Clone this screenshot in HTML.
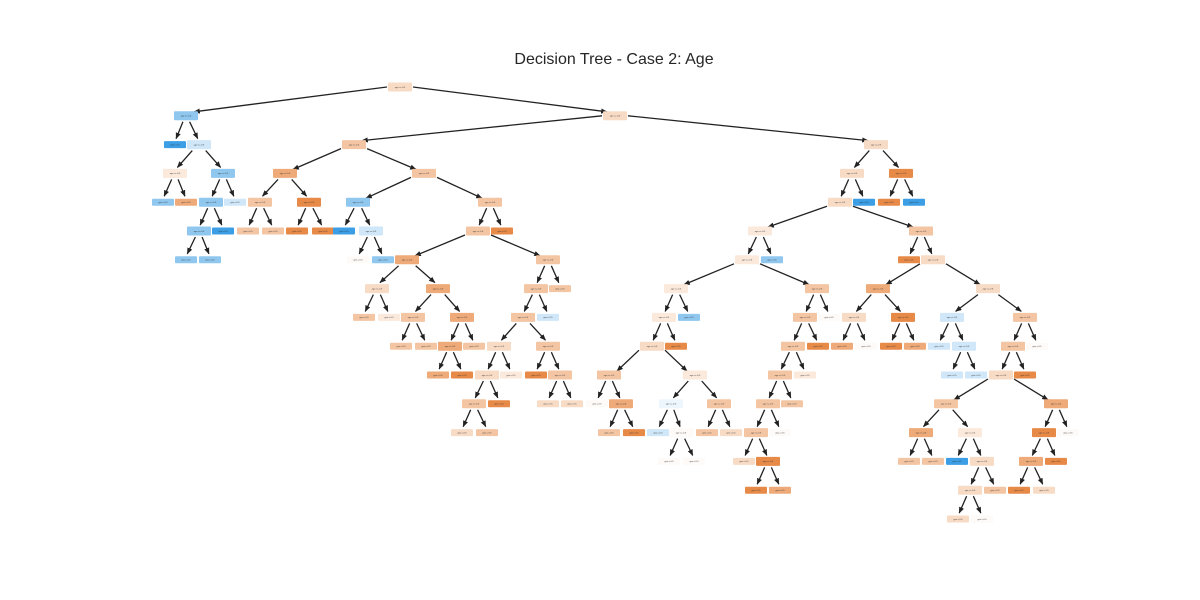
<!DOCTYPE html>
<html><head><meta charset="utf-8"><style>
html,body{margin:0;padding:0;background:#fff;width:1200px;height:600px;overflow:hidden}
svg{display:block}
</style></head><body>
<svg id="s" width="1200" height="600" viewBox="0 0 1200 600" xmlns="http://www.w3.org/2000/svg">
<defs><marker id="a" viewBox="0 0 10 10" refX="9" refY="5" markerWidth="5" markerHeight="5" orient="auto"><path d="M0,1 L10,5 L0,9 z" fill="#222"/></marker></defs>
<text x="614" y="64" text-anchor="middle" font-family="Liberation Sans, sans-serif" font-size="16" fill="#262626">Decision Tree - Case 2: Age</text>
<g id="e" stroke="#222" stroke-width="1.3" fill="none"></g>
<g id="n"></g>
</svg>
<script>
var C={O0:"#fbe9dc",O1:"#f8dbc5",O2:"#f3c5a3",O3:"#eeaa79",O4:"#e78a48",W:"#fefaf7",B0:"#eef6fd",B1:"#cfe7f8",B2:"#8fc7ef",B3:"#3c9ee5"};
var N=[[400,0,"O1",-1],[186,1,"B2",0],[615,1,"O1",0],[175,2,"B3",1],[199,2,"B1",1],[175,3,"O0",4],[223,3,"B2",4],[163,4,"B2",5],[186,4,"O3",5],[211,4,"B2",6],[235,4,"B1",6],[199,5,"B2",9],[223,5,"B3",9],[186,6,"B2",11],[210,6,"B2",11],
[354,2,"O2",2],[876,2,"O1",2],[285,3,"O3",15],[424,3,"O2",15],[260,4,"O2",17],[309,4,"O4",17],[248,5,"O2",19],[273,5,"O2",19],[297,5,"O4",20],[323,5,"O4",20],[358,4,"B2",18],[490,4,"O2",18],[344,5,"B3",25],[371,5,"B1",25],[358,6,"W",28],[383,6,"B2",28],[478,5,"O2",26],[502,5,"O4",26],[407,6,"O3",31],[548,6,"O2",31],[377,7,"O1",33],[438,7,"O3",33],[364,8,"O2",35],[389,8,"O0",35],[413,8,"O2",36],[462,8,"O3",36],[401,9,"O2",39],[426,9,"O2",39],[450,9,"O3",40],[474,9,"O2",40],[438,10,"O3",43],[462,10,"O4",43],[536,7,"O2",34],[560,7,"O2",34],[523,8,"O2",47],[548,8,"B1",47],[499,9,"O1",49],[548,9,"O2",49],[487,10,"O1",51],[511,10,"O0",51],[474,11,"O2",53],[499,11,"O4",53],[462,12,"O1",55],[487,12,"O2",55],[536,10,"O4",52],[560,10,"O2",52],[548,11,"O1",60],[572,11,"O1",60],
[852,3,"O1",16],[901,3,"O4",16],[840,4,"O1",63],[864,4,"B3",63],[889,4,"O4",64],[914,4,"B3",64],[760,5,"O0",65],[921,5,"O2",65],[909,6,"O4",70],[933,6,"O1",70],[878,7,"O3",72],[988,7,"O1",72],[854,8,"O1",73],[903,8,"O4",73],[842,9,"O3",75],[866,9,"W",75],[891,9,"O4",76],[915,9,"O3",76],[952,8,"B1",74],[1025,8,"O2",74],[939,9,"B1",81],[964,9,"B1",81],[952,10,"B1",84],[976,10,"B1",84],[1013,9,"O2",82],[1037,9,"W",82],[1001,10,"O1",87],[1025,10,"O4",87],[946,11,"O2",89],[1056,11,"O3",89],[921,12,"O3",91],[970,12,"O0",91],[909,13,"O2",93],[933,13,"O2",93],[957,13,"B3",94],[982,13,"O1",94],[970,14,"O1",98],[995,14,"O2",98],[958,15,"O1",99],[982,15,"W",99],[1044,12,"O4",92],[1068,12,"W",92],[1031,13,"O3",103],[1056,13,"O4",103],[1019,14,"O4",105],[1044,14,"O1",105],
[747,6,"O0",69],[772,6,"B2",69],[676,7,"O0",109],[817,7,"O2",109],[664,8,"O0",111],[689,8,"B2",111],[652,9,"O1",113],[676,9,"O4",113],[609,10,"O2",115],[695,10,"O0",115],[597,11,"W",117],[621,11,"O3",117],[609,12,"O2",120],[634,12,"O4",120],[671,11,"B0",118],[719,11,"O2",118],[658,12,"B1",123],[681,12,"W",123],[669,13,"W",126],[694,13,"W",126],[707,12,"O2",124],[731,12,"O1",124],[805,8,"O2",112],[829,8,"W",112],[793,9,"O2",131],[818,9,"O4",131],[780,10,"O2",133],[805,10,"O0",133],[768,11,"O2",135],[792,11,"O2",135],[756,12,"O2",137],[780,12,"W",137],[744,13,"O1",139],[768,13,"O4",139],[756,14,"O4",142],[780,14,"O3",142]];
var ns="http://www.w3.org/2000/svg",E=document.getElementById("e"),G=document.getElementById("n");
function Y(l){return 87+l*28.8}
var hasKid={};N.forEach(function(d){if(d[3]>=0)hasKid[d[3]]=1});
N.forEach(function(d,i){
 if(d[3]>=0){var p=N[d[3]],px=p[0],py=Y(p[1]),cx=d[0],cy=Y(d[1]);
  var dx=cx-px,dy=cy-py,x1,y1,x2,y2;
  if(Math.abs(dx)>40){x1=px+(dx>0?13:-13);y1=py+(Math.abs(dx)>100?0:4);x2=cx+(dx>0?-8:8);y2=cy-4;}
  else{x1=px+dx*0.28;y1=py+6;x2=cx-dx*0.1;y2=cy-6;}
  var l=document.createElementNS(ns,"line");l.setAttribute("x1",x1);l.setAttribute("y1",y1);l.setAttribute("x2",x2);l.setAttribute("y2",y2);l.setAttribute("marker-end","url(#a)");E.appendChild(l);}
 var h=hasKid[i]?9:7,w=hasKid[i]?24:22,y=Y(d[1]);
 var r=document.createElementNS(ns,"rect");r.setAttribute("x",d[0]-w/2);r.setAttribute("y",y-h/2);r.setAttribute("width",w);r.setAttribute("height",h);r.setAttribute("rx",1);r.setAttribute("fill",C[d[2]]);G.appendChild(r);
 var t=document.createElementNS(ns,"text");t.setAttribute("x",d[0]);t.setAttribute("y",y+0.8);t.setAttribute("text-anchor","middle");t.setAttribute("font-size","2.2");t.setAttribute("font-family","Liberation Sans, sans-serif");t.setAttribute("fill","#333");t.textContent=hasKid[i]?"age <= 0.5":"gini = 0.5";G.appendChild(t);
});
</script>
</body></html>
